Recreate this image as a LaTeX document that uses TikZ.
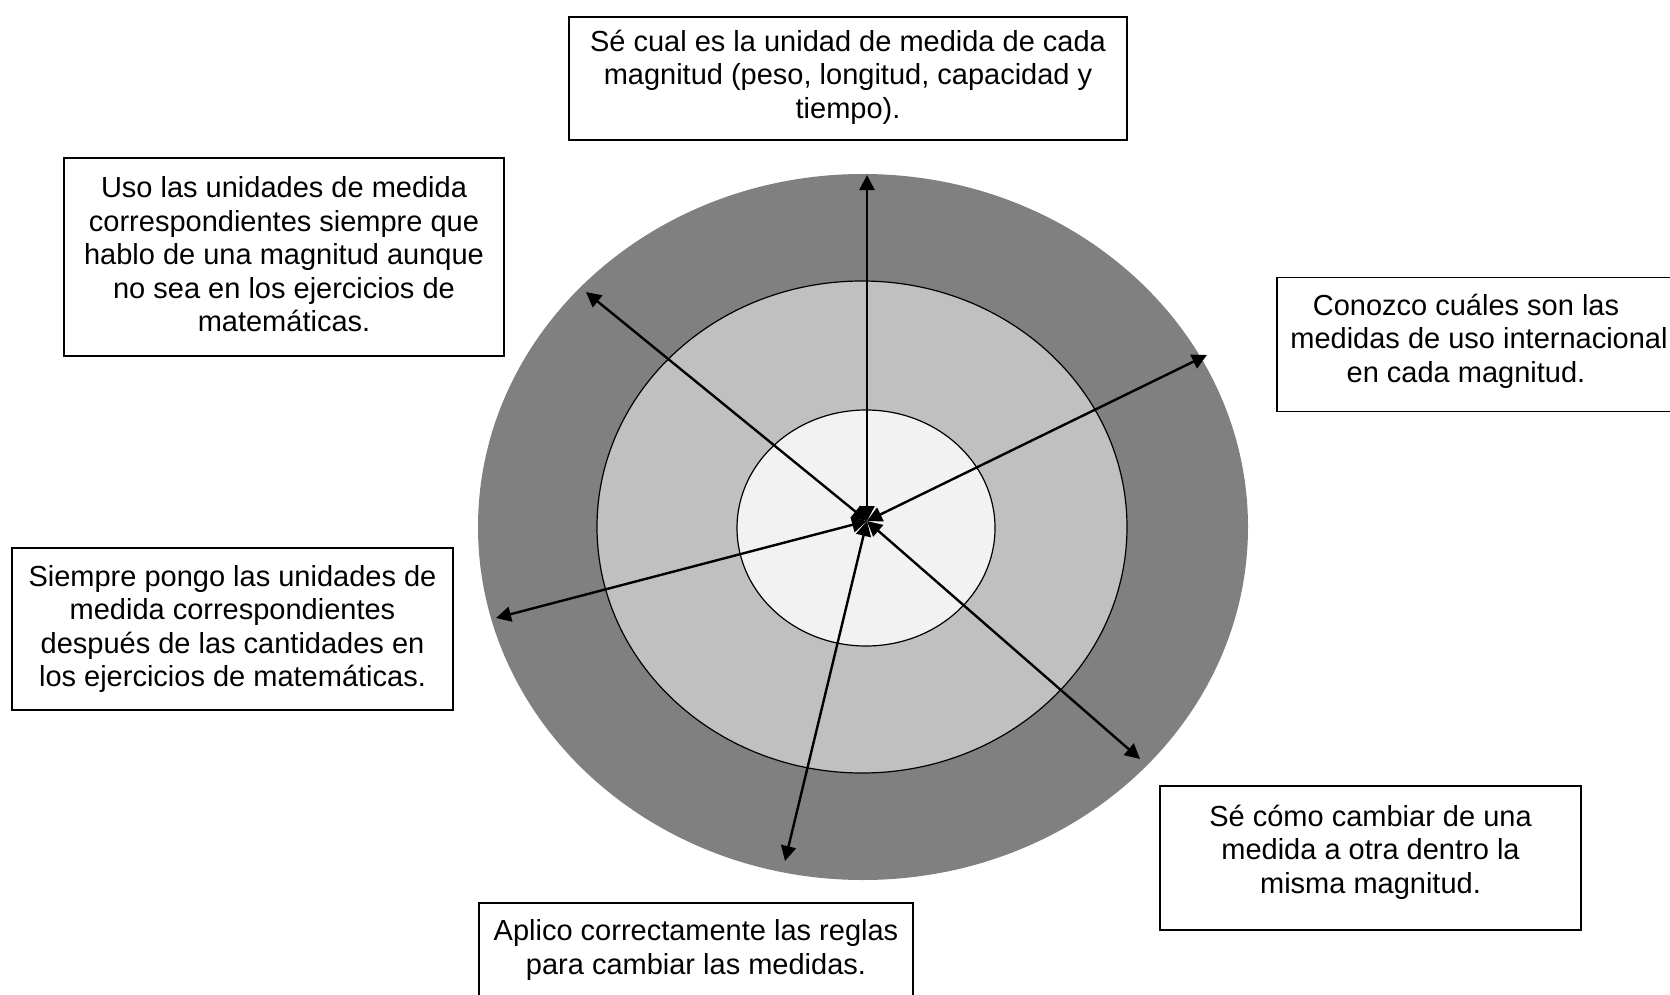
\documentclass[tikz,border=0pt]{standalone}
\usepackage{fontspec}
\setmainfont{Liberation Sans}
\usetikzlibrary{arrows.meta}
\definecolor{ringouter}{RGB}{128,128,128}
\definecolor{ringmid}{RGB}{192,192,192}
\definecolor{ringin}{RGB}{242,242,242}
\tikzset{
  box/.style={draw=black, line width=0.75pt, fill=white, inner sep=0pt},
  txt/.style={align=center, font=\fontsize{14.5}{16.75}\selectfont, inner sep=0pt},
  arr/.style={{Triangle[length=7.5pt,width=7.5pt]}-{Triangle[length=7.5pt,width=7.5pt]}, line width=1.2pt}
}
\begin{document}
\begin{tikzpicture}[x=0.5pt,y=-0.5pt]
\useasboundingbox (0,0) rectangle (1670,995);
\fill[white] (0,0) rectangle (1670,995);
% rings
\fill[ringouter] (863,527) ellipse [x radius=192.5pt, y radius=176.5pt];
\filldraw[fill=ringmid, draw=black, line width=0.6pt] (862,527) ellipse [x radius=132.5pt, y radius=123pt];
\filldraw[fill=ringin, draw=black, line width=0.6pt] (866,528) ellipse [x radius=64.5pt, y radius=59pt];
% arrow ends
\coordinate (c) at (867,521);
\coordinate (eup) at (867,175);
\coordinate (eul) at (586,292);
\coordinate (er) at (1207,355);
\coordinate (el) at (496,618);
\coordinate (elr) at (1140,759);
\coordinate (ed) at (785,861);
\draw[arr] (c) -- (eup);
\draw[arr] (c) -- (eul);
\draw[arr] (c) -- (er);
\draw[arr] (c) -- (el);
\draw[arr] (c) -- (elr);
\draw[arr] (c) -- (ed);
% boxes
\node[box, minimum width=279pt, minimum height=61.5pt] (btop) at (848,78.5) {};
\node[txt] (ttop) at (848,77) {Sé cual es la unidad de medida de cada\\magnitud (peso, longitud, capacidad y\\tiempo).};
\node[box, minimum width=220pt, minimum height=99pt] (bul) at (284,257) {};
\node[txt] (tul) at (284,254.5) {Uso las unidades de medida\\correspondientes siempre que\\hablo de una magnitud aunque\\no sea en los ejercicios de\\matemáticas.};
\node[box, minimum width=230pt, minimum height=67pt] (br) at (1507,344.5) {};
\node[txt] (tr) at (1466,341) {Conozco cuáles son las\\\hspace*{13pt}medidas de uso internacional\\en cada magnitud.};
\node[box, minimum width=220.5pt, minimum height=81pt] (bll) at (232.5,629) {};
\node[txt] (tll) at (232.5,629) {Siempre pongo las unidades de\\medida correspondientes\\después de las cantidades en\\los ejercicios de matemáticas.};
\node[box, minimum width=210.5pt, minimum height=72pt] (blr) at (1370.5,858) {};
\node[txt] (tlr) at (1370.5,852) {Sé cómo cambiar de una\\medida a otra dentro la\\misma magnitud.};
\node[box, minimum width=217pt, minimum height=54pt] (bd) at (696,957) {};
\node[txt] (td) at (696,950) {Aplico correctamente las reglas\\para cambiar las medidas.};
\end{tikzpicture}
\end{document}
